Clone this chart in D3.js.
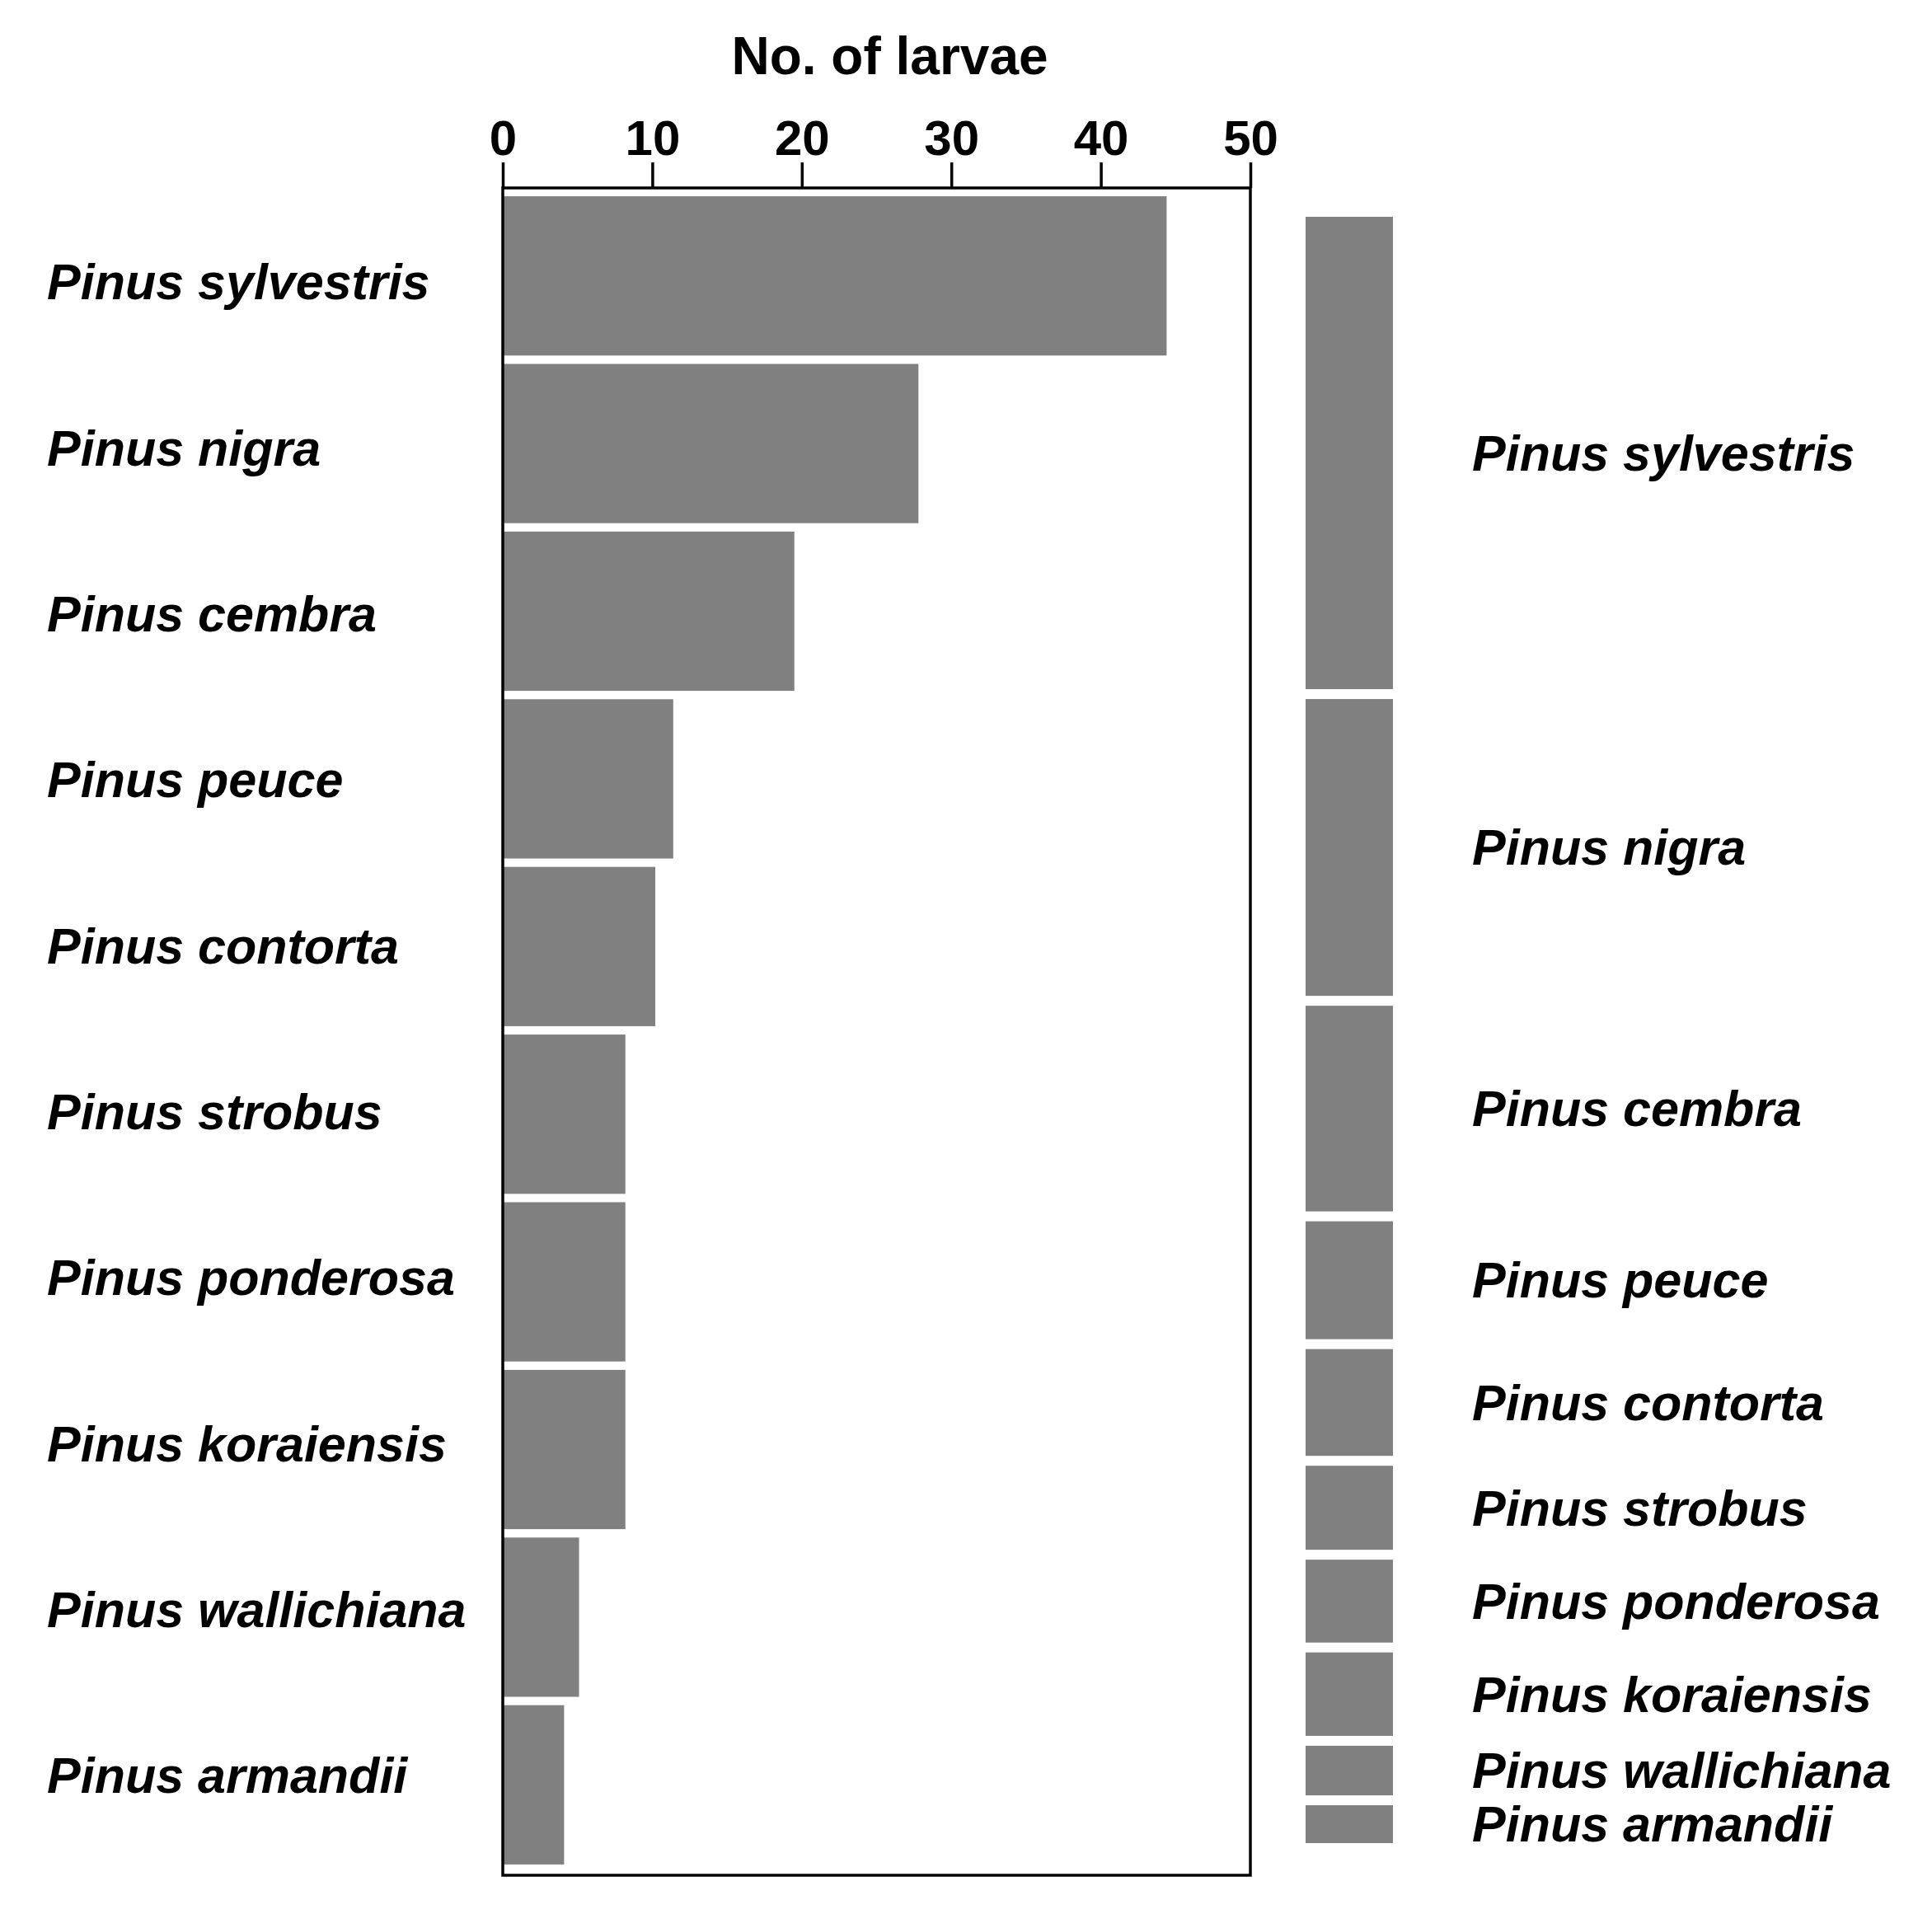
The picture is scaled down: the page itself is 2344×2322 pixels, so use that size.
<!DOCTYPE html>
<html>
<head>
<meta charset="utf-8">
<script src="https://cdn.jsdelivr.net/npm/d3@7"></script>
<style>
    html, body { margin: 0; padding: 0; background: #fff; }
    svg { display: block; }
    .tick text { font-family: "Liberation Sans", Arial, sans-serif; font-weight: bold; font-size: 60px; fill: #000; }
    .species { font-family: "Liberation Sans", Arial, sans-serif; font-weight: bold; font-style: italic; font-size: 61px; fill: #000; }
    .title { font-family: "Liberation Sans", Arial, sans-serif; font-weight: bold; font-size: 64px; fill: #000; }
</style>
</head>
<body>
<script>
// Data
const species = [
    "Pinus sylvestris", "Pinus nigra", "Pinus cembra", "Pinus peuce", "Pinus contorta",
    "Pinus strobus", "Pinus ponderosa", "Pinus koraiensis", "Pinus wallichiana", "Pinus armandii"
];
const larvae = [44.4, 27.8, 19.5, 11.4, 10.2, 8.2, 8.2, 8.2, 5.1, 4.1];
// segment sizes of the stacked bar on the right, as drawn
const stackShare = [43.4, 27.6, 19.4, 11.5, 10.5, 8.45, 8.35, 8.4, 5.35, 4.3];
const xTicks = [0, 10, 20, 30, 40, 50];
const axisTitle = "No. of larvae";

const W = 2344, H = 2322;
const plot = { left: 610, right: 1517, top: 228, bottom: 2275 };
const stackBox = { left: 1584, right: 1690, top: 263, bottom: 2236, gap: 12 };
const barColor = "#808080";

const svg = d3.select("body").append("svg")
    .attr("width", W)
    .attr("height", H);

// Left panel: horizontal bars
const x = d3.scaleLinear().domain([0, 50]).range([plot.left, plot.right]);
const y = d3.scaleBand()
    .domain(species)
    .range([233, 2267])
    .paddingInner(0.05)
    .paddingOuter(0.025);
// the species names on the left sit on a slightly tighter spacing than the bars
const yLabel = d3.scalePoint().domain(species).range([342, 2154]);

svg.append("g")
    .selectAll("rect")
    .data(species)
    .join("rect")
    .attr("x", x(0))
    .attr("y", d => y(d))
    .attr("width", (d, i) => x(larvae[i]) - x(0))
    .attr("height", y.bandwidth())
    .attr("fill", barColor);

// frame
svg.append("rect")
    .attr("x", plot.left)
    .attr("y", plot.top)
    .attr("width", plot.right - plot.left)
    .attr("height", plot.bottom - plot.top)
    .attr("fill", "none")
    .attr("stroke", "#000")
    .attr("stroke-width", 3.5);

// top axis
const axis = svg.append("g")
    .attr("transform", `translate(0,${plot.top})`)
    .call(d3.axisTop(x).tickValues(xTicks).tickSize(31).tickPadding(9));
axis.select(".domain").remove();
axis.selectAll(".tick line").attr("stroke", "#000").attr("stroke-width", 3.5);

svg.append("text")
    .attr("class", "title")
    .attr("x", (plot.left + plot.right) / 2 + 16)
    .attr("y", 90)
    .attr("text-anchor", "middle")
    .text(axisTitle);

// left labels
svg.append("g")
    .selectAll("text")
    .data(species)
    .join("text")
    .attr("class", "species")
    .attr("x", 57)
    .attr("y", d => yLabel(d))
    .attr("dy", "0.35em")
    .text(d => d);

// Right panel: stacked proportional bar
const total = d3.sum(stackShare);
const ys = d3.scaleLinear()
    .domain([0, total])
    .range([stackBox.top, stackBox.bottom + stackBox.gap]);
const cum = d3.cumsum(stackShare);
const segments = species.map((name, i) => ({
    name,
    y0: ys(cum[i] - stackShare[i]),
    y1: ys(cum[i]) - stackBox.gap
}));

svg.append("g")
    .selectAll("rect")
    .data(segments)
    .join("rect")
    .attr("x", stackBox.left)
    .attr("y", d => d.y0)
    .attr("width", stackBox.right - stackBox.left)
    .attr("height", d => d.y1 - d.y0)
    .attr("fill", barColor);

svg.append("g")
    .selectAll("text")
    .data(segments)
    .join("text")
    .attr("class", "species")
    .attr("x", 1786)
    .attr("y", d => (d.y0 + d.y1) / 2)
    .attr("dy", "0.35em")
    .text(d => d.name);
</script>
</body>
</html>
